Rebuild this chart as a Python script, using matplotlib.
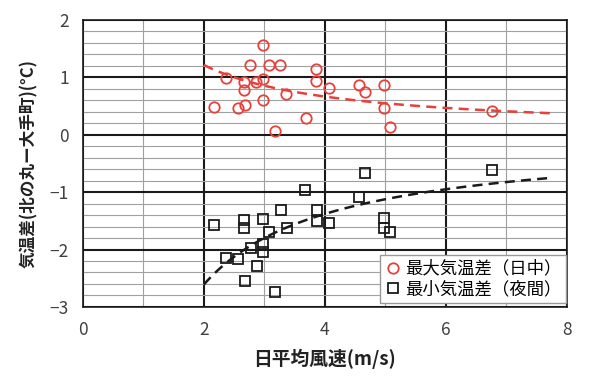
import numpy as np
import matplotlib
matplotlib.use("Agg")
import matplotlib.pyplot as plt
from matplotlib.ticker import MultipleLocator

plt.rcParams['font.family'] = ['Noto Sans CJK JP', 'DejaVu Sans']

# ── data ────────────────────────────────────────────────────────────────────
# daytime (max temperature difference), red circles
wind_day = [2.98, 2.76, 3.07, 3.26, 2.36, 2.67, 2.86, 2.98, 2.67, 3.86,
            3.86, 4.07, 3.36, 4.56, 4.66, 4.97, 4.97, 5.07, 2.17, 2.57,
            2.68, 2.98, 3.68, 3.18, 6.76]
diff_day = [1.56, 1.22, 1.22, 1.22, 0.98, 0.91, 0.92, 0.97, 0.78, 1.14,
            0.93, 0.82, 0.71, 0.87, 0.75, 0.86, 0.46, 0.13, 0.48, 0.46,
            0.51, 0.60, 0.29, 0.07, 0.42]

# night (min temperature difference), black squares
wind_night = [4.67, 3.67, 4.57, 3.28, 3.87, 2.98, 2.67, 2.67, 2.17, 3.87,
              4.07, 3.07, 3.37, 4.98, 4.98, 5.08, 2.98, 2.78, 2.98, 2.37,
              2.57, 2.88, 2.68, 3.18, 6.76]
diff_night = [-0.67, -0.96, -1.08, -1.32, -1.32, -1.46, -1.48, -1.62, -1.58, -1.51,
              -1.53, -1.69, -1.63, -1.45, -1.63, -1.69, -1.91, -1.97, -2.05, -2.15,
              -2.16, -2.29, -2.55, -2.74, -0.62]

# power trend lines (y = a * x^b), coefficients
trend_day = (2.22, -0.87)
trend_night = (-4.94, -0.92)
trend_x = (2.0, 7.75)

fig = plt.figure(figsize=(6.0, 3.9), dpi=100)
ax = fig.add_axes([0.138, 0.213, 0.807, 0.736])

ax.set_xlim(0, 8)
ax.set_ylim(-3, 2)
ax.xaxis.set_major_locator(MultipleLocator(2))
ax.xaxis.set_minor_locator(MultipleLocator(1))
ax.yaxis.set_major_locator(MultipleLocator(1))
ax.yaxis.set_minor_locator(MultipleLocator(0.2))
ax.grid(which="minor", color="#a0a0a0", lw=0.8)
ax.grid(which="major", color="#1a1a1a", lw=1.5)
ax.set_axisbelow(True)
for s in ax.spines.values():
    s.set_color("#1a1a1a"); s.set_linewidth(1.2)
ax.tick_params(which="both", length=0, labelsize=12.5, labelcolor="#404040", pad=10)

xs = np.linspace(*trend_x, 100)
ax.plot(xs, trend_day[0] * xs ** trend_day[1], color="#e8403a", lw=1.8,
        ls=(0, (4, 2.5)), zorder=2)
ax.plot(xs, trend_night[0] * xs ** trend_night[1], color="#1a1a1a", lw=1.8,
        ls=(0, (4, 2.5)), zorder=2)

ax.plot(wind_day, diff_day, "o", ms=7.5, mfc="none", mec="#e8403a", mew=1.3,
        label="最大気温差（日中）", zorder=3)
ax.plot(wind_night, diff_night, "s", ms=7, mfc="none", mec="#1a1a1a", mew=1.3,
        label="最小気温差（夜間）", zorder=3)

ax.set_xlabel("日平均風速(m/s)", fontsize=13.5, fontweight="bold", color="#222", labelpad=7)
ax.set_ylabel("気温差(北の丸ー大手町)(°C)", fontsize=12, fontweight="bold",
              color="#222", labelpad=8)

leg = ax.legend(loc="lower right", bbox_to_anchor=(0.997, 0.015), fontsize=12.5,
                fancybox=False, framealpha=1, edgecolor="#999", borderaxespad=0,
                handletextpad=0.2, handlelength=1.0, borderpad=0.25, labelspacing=0.15)
leg.get_frame().set_linewidth(1.0)

fig.savefig("out.png", dpi=100)
